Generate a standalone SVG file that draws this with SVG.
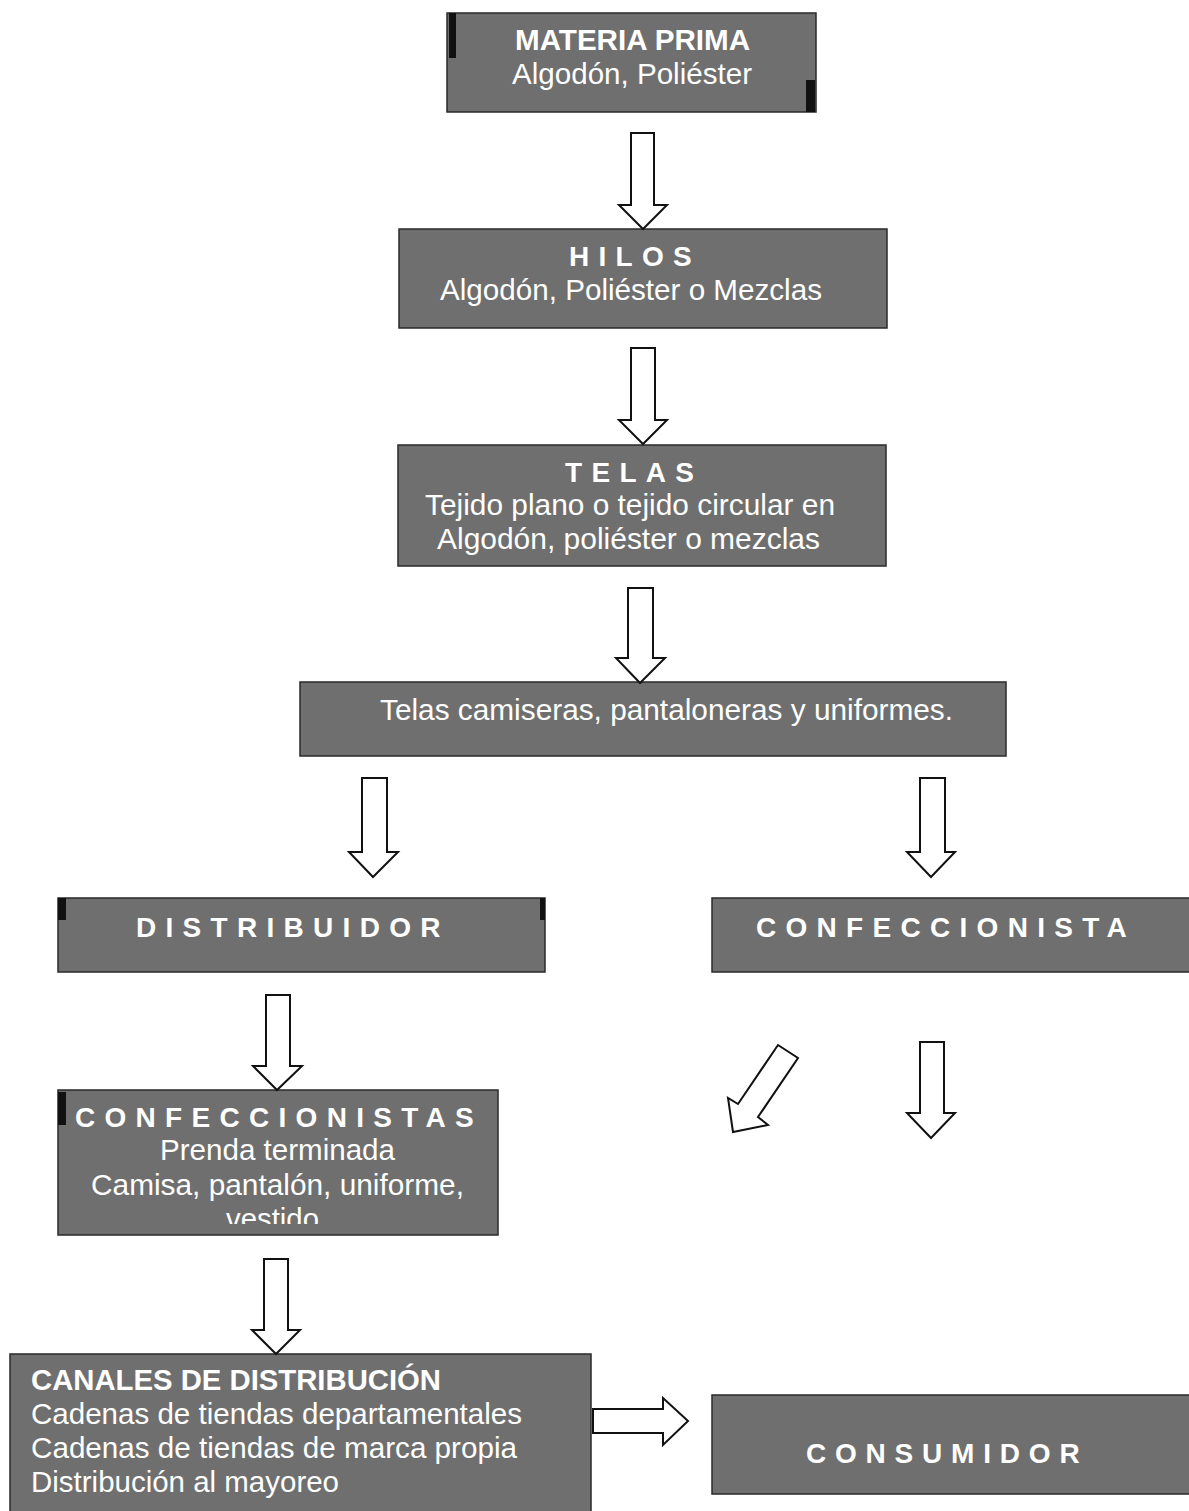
<svg xmlns="http://www.w3.org/2000/svg" width="1189" height="1511" viewBox="0 0 1189 1511">
<defs>
<style>
.box{fill:#6f6f6f;stroke:#2a2a2a;stroke-width:1.5}
.mark{fill:#111}
.t{font-family:"Liberation Sans",Arial,sans-serif;font-size:29px;fill:#ffffff}
.b{font-weight:bold}
.sp{font-family:"Liberation Sans",Arial,sans-serif;font-size:28px;font-weight:bold;fill:#ffffff;letter-spacing:9.3px}
.arr{fill:#ffffff;stroke:#111;stroke-width:2;stroke-linejoin:miter}
</style>
<clipPath id="clipConf"><rect x="58" y="1090" width="440" height="134"/></clipPath>
</defs>
<rect width="1189" height="1511" fill="#ffffff"/>

<g id="materia-prima">
<rect class="box" x="447" y="13" width="369" height="99"/>
<rect class="mark" x="449" y="13" width="7" height="45"/>
<rect class="mark" x="806" y="80" width="9" height="32"/>
<text class="t b" x="515" y="50" textLength="235" lengthAdjust="spacingAndGlyphs">MATERIA PRIMA</text>
<text class="t" x="512" y="84" textLength="240" lengthAdjust="spacingAndGlyphs">Algodón, Poliéster</text>
</g>

<g id="hilos">
<rect class="box" x="399" y="229" width="488" height="99"/>
<text class="sp" x="569" y="266">HILOS</text>
<text class="t" x="440" y="300" textLength="382" lengthAdjust="spacingAndGlyphs">Algodón, Poliéster o Mezclas</text>
</g>

<g id="telas">
<rect class="box" x="398" y="445" width="488" height="121"/>
<text class="sp" x="565" y="482">TELAS</text>
<text class="t" x="425" y="515" textLength="410" lengthAdjust="spacingAndGlyphs">Tejido plano o tejido circular en</text>
<text class="t" x="437" y="549" textLength="383" lengthAdjust="spacingAndGlyphs">Algodón, poliéster o mezclas</text>
</g>

<g id="telas-camiseras">
<rect class="box" x="300" y="682" width="706" height="74"/>
<text class="t" x="380" y="720" textLength="573" lengthAdjust="spacingAndGlyphs">Telas camiseras, pantaloneras y uniformes.</text>
</g>

<g id="distribuidor">
<rect class="box" x="58" y="898" width="487" height="74"/>
<rect class="mark" x="58" y="898" width="8" height="22"/>
<rect class="mark" x="540" y="898" width="5" height="22"/>
<text class="sp" x="136" y="937">DISTRIBUIDOR</text>
</g>

<g id="confeccionista">
<rect class="box" x="712" y="898" width="490" height="74"/>
<text class="sp" x="756" y="937">CONFECCIONISTA</text>
</g>

<g id="confeccionistas">
<rect class="box" x="58" y="1090" width="440" height="145"/>
<rect class="mark" x="58" y="1092" width="8" height="33"/>
<text class="sp" x="75" y="1127">CONFECCIONISTAS</text>
<text class="t" x="160" y="1160" textLength="235" lengthAdjust="spacingAndGlyphs">Prenda terminada</text>
<text class="t" x="91" y="1195" textLength="373" lengthAdjust="spacingAndGlyphs">Camisa, pantalón, uniforme,</text>
<text class="t" x="226" y="1229" textLength="93" lengthAdjust="spacingAndGlyphs" clip-path="url(#clipConf)">vestido</text>
</g>

<g id="canales">
<rect class="box" x="10" y="1354" width="581" height="160"/>
<text class="t b" x="31" y="1390" textLength="410" lengthAdjust="spacingAndGlyphs">CANALES DE DISTRIBUCIÓN</text>
<text class="t" x="31" y="1424" textLength="491" lengthAdjust="spacingAndGlyphs">Cadenas de tiendas departamentales</text>
<text class="t" x="31" y="1458" textLength="486" lengthAdjust="spacingAndGlyphs">Cadenas de tiendas de marca propia</text>
<text class="t" x="31" y="1492" textLength="308" lengthAdjust="spacingAndGlyphs">Distribución al mayoreo</text>
</g>

<g id="consumidor">
<rect class="box" x="712" y="1395" width="490" height="99"/>
<text class="sp" x="806" y="1463" style="letter-spacing:8.8px">CONSUMIDOR</text>
</g>

<g id="connectors">
<path class="arr" d="M631,133 H654 V205 H667 L643,229 L619,205 H631 Z"/>
<path class="arr" d="M631,348 H655 V420 H667 L643,444 L619,420 H631 Z"/>
<path class="arr" d="M628,588 H653 V658 H665 L640,683 L616,658 H628 Z"/>
<path class="arr" d="M362,778 H387 V852 H398 L373,877 L349,852 H362 Z"/>
<path class="arr" d="M920,778 H945 V852 H955 L931,877 L907,852 H920 Z"/>
<path class="arr" d="M266,995 H290 V1066 H302 L277,1090 L253,1066 H266 Z"/>
<path class="arr" d="M264,1259 H288 V1330 H300 L276,1354 L252,1330 H264 Z"/>
<path class="arr" d="M920,1042 H944 V1113 H955 L931,1138 L907,1113 H920 Z"/>
<path class="arr" d="M778,1045 L798,1058 L758,1117 L768,1125 L733,1132 L728,1098 L738,1104 Z"/>
<path class="arr" d="M593,1409 H663 V1398 L688,1421 L663,1445 V1433 H593 Z"/>
</g>
</svg>
